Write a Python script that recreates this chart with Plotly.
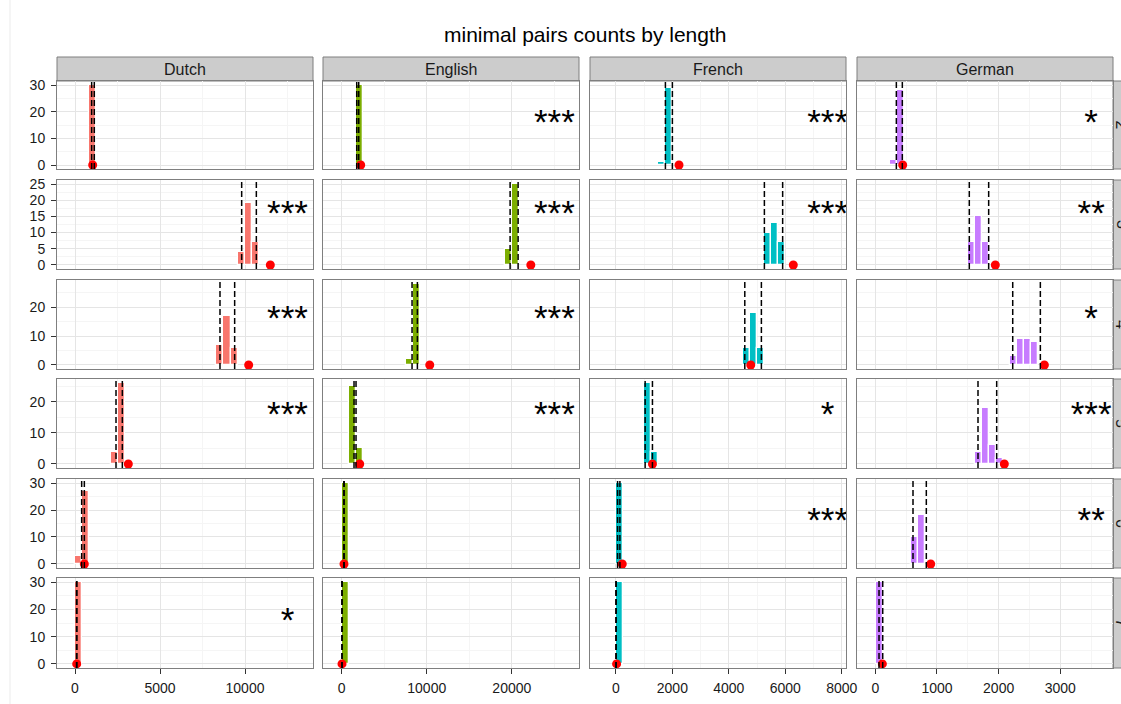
import plotly.graph_objects as go

W, H = 1121, 704

# ---------------------------------------------------------------- data
languages = ["Dutch", "English", "French", "German"]
lengths = ["2", "3", "4", "5", "6", "7"]

# simulated minimal-pair counts: histogram bin centres and counts per word length
dutch_centers = {"2": [1055], "3": [9770, 10185, 10600], "4": [8525, 8940, 9355],
                 "5": [2300, 2715], "6": [225, 640], "7": [225]}
dutch_counts = {"2": [30], "3": [4, 19, 7], "4": [7, 17, 6],
                "5": [4, 26], "6": [3, 27], "7": [30]}

english_centers = {"2": [2130], "3": [19560, 20390], "4": [7940, 8770],
                   "5": [1300, 2130], "6": [470], "7": [470]}
english_counts = {"2": [30], "3": [5, 25], "4": [2, 28],
                  "5": [25, 5], "6": [30], "7": [30]}

french_centers = {"2": [1625, 1875], "3": [5375, 5625, 5875], "4": [4625, 4875, 5125],
                  "5": [1125, 1375], "6": [125], "7": [125]}
french_counts = {"2": [1, 29], "3": [10, 13, 7], "4": [6, 18, 6],
                 "5": [26, 4], "6": [30], "7": [30]}

german_centers = {"2": [294, 408.5], "3": [1553.5, 1668, 1782.5],
                  "4": [2240.5, 2355, 2469.5, 2584], "5": [1668, 1782.5, 1897, 2011.5],
                  "6": [637.5, 752], "7": [65]}
german_counts = {"2": [2, 28], "3": [7, 15, 7], "4": [3, 9, 9, 8],
                 "5": [4, 18, 6, 2], "6": [10, 18], "7": [30]}

binwidth = {"Dutch": 415, "English": 830, "French": 250, "German": 114.5}

# 95% interval of the simulated counts (dashed lines)
dutch_ci = {"2": (980, 1135), "3": (9804, 10667), "4": (8529, 9392),
            "5": (2412, 2784), "6": (392, 549), "7": (90, 110)}
english_ci = {"2": (1765, 2000), "3": (19800, 20741), "4": (8270, 8898),
              "5": (1447, 1682), "6": (250, 290), "7": (25, 45)}
french_ci = {"2": (1753, 2000), "3": (5259, 5906), "4": (4565, 5153),
             "5": (1035, 1294), "6": (59, 141), "7": (0, 10)}
german_ci = {"2": (341, 438), "3": (1524, 1838), "4": (2228, 2676),
             "5": (1665, 1968), "6": (611, 827), "7": (60, 120)}

# observed counts (red points)
dutch_obs = {"2": 1040, "3": 11490, "4": 10216, "5": 3137, "6": 549, "7": 100}
english_obs = {"2": 2235, "3": 22235, "4": 10353, "5": 2118, "6": 270, "7": 35}
french_obs = {"2": 2235, "3": 6283, "4": 4776, "5": 1294, "6": 224, "7": 24}
german_obs = {"2": 444, "3": 1946, "4": 2741, "5": 2092, "6": 898, "7": 114}

# significance labels, rows = word length 2..7
dutch_sig = ["", "***", "***", "***", "", "*"]
english_sig = ["***", "***", "***", "***", "", ""]
french_sig = ["***", "***", "", "*", "***", ""]
german_sig = ["*", "**", "*", "***", "**", ""]

centers = {"Dutch": dutch_centers, "English": english_centers,
           "French": french_centers, "German": german_centers}
counts = {"Dutch": dutch_counts, "English": english_counts,
          "French": french_counts, "German": german_counts}
ci = {"Dutch": dutch_ci, "English": english_ci, "French": french_ci, "German": german_ci}
obs = {"Dutch": dutch_obs, "English": english_obs, "French": french_obs, "German": german_obs}
sig = {"Dutch": dutch_sig, "English": english_sig, "French": french_sig, "German": german_sig}

# ---------------------------------------------------------------- styling / layout
colors = {"Dutch": "#F8766D", "English": "#7CAE00", "French": "#00BFC4", "German": "#C77CFF"}
x_range = {"Dutch": [-1059, 14000], "English": [-2200, 27900],
           "French": [-918, 8150], "German": [-297, 3854]}
x_dtick = {"Dutch": 5000, "English": 10000, "French": 2000, "German": 1000}
y_dtick = [10, 5, 10, 10, 10, 10]
star_x = {"Dutch": 12500, "English": 25000, "French": 7500, "German": 3500}
star_y = 15

col_px = [(57, 313), (323, 579), (590, 846), (857, 1113)]
row_px = [(81, 169), (180, 269), (280, 369), (379, 468), (479, 568), (578, 668)]
strip_top = (57, 81)
strip_right_x = 1113

FONT = "Liberation Sans, Arial, Helvetica, sans-serif"
BORDER = "#7F7F7F"
GRID = "#E5E5E5"
MINOR = "#F5F5F5"


def fx(v):
    return v / W


def fy(v):
    return 1 - v / H


fig = go.Figure()
layout = {}
shapes = []
annotations = []

for r, length in enumerate(lengths):
    row_max = max(max(counts[lang][length]) for lang in languages)
    y_lo, y_hi = -0.05 * row_max, 1.05 * row_max
    for c, lang in enumerate(languages):
        i = r * 4 + c + 1
        suffix = "" if i == 1 else str(i)
        xa, ya = f"x{suffix}", f"y{suffix}"
        xk, yk = f"xaxis{suffix}", f"yaxis{suffix}"
        bottom = r == len(lengths) - 1
        left = c == 0

        layout[xk] = dict(
            domain=[fx(col_px[c][0]), fx(col_px[c][1])], anchor=ya, automargin=False,
            range=x_range[lang], tickmode="linear", tick0=0, dtick=x_dtick[lang],
            tickformat="d", exponentformat="none",
            showgrid=True, gridcolor=GRID, gridwidth=1, zeroline=False,
            minor=dict(showgrid=True, gridcolor=MINOR, gridwidth=1,
                       tick0=0, dtick=x_dtick[lang] / 2, ticks=""),
            showline=True, mirror=True, linecolor=BORDER, linewidth=1,
            ticks="outside" if bottom else "", ticklen=5, tickcolor="#333333",
            showticklabels=bottom, ticklabelstandoff=2,
            tickfont=dict(family=FONT, size=14, color="#1A1A1A"),
            fixedrange=True,
        )
        layout[yk] = dict(
            domain=[fy(row_px[r][1]), fy(row_px[r][0])], anchor=xa, automargin=False,
            range=[y_lo, y_hi], tickmode="linear", tick0=0, dtick=y_dtick[r],
            showgrid=True, gridcolor=GRID, gridwidth=1, zeroline=False,
            minor=dict(showgrid=True, gridcolor=MINOR, gridwidth=1,
                       tick0=0, dtick=y_dtick[r] / 2, ticks=""),
            showline=True, mirror=True, linecolor=BORDER, linewidth=1,
            ticks="outside" if left else "", ticklen=5, tickcolor="#333333",
            showticklabels=left, ticklabelstandoff=3,
            tickfont=dict(family=FONT, size=14, color="#1A1A1A"),
            fixedrange=True,
        )

        # simulated histogram
        fig.add_trace(go.Bar(
            x=centers[lang][length], y=counts[lang][length],
            width=binwidth[lang], xaxis=xa, yaxis=ya,
            marker=dict(color=colors[lang], line=dict(color="white", width=1.3)),
            showlegend=False, hoverinfo="skip",
        ))

        # interval bounds
        for v in ci[lang][length]:
            shapes.append(dict(
                type="line", xref=xa, yref=f"{ya} domain", x0=v, x1=v, y0=0, y1=1,
                line=dict(color="black", width=1.5, dash="6px,3px"), layer="above",
            ))

        # observed value
        fig.add_trace(go.Scatter(
            x=[obs[lang][length]], y=[0], xaxis=xa, yaxis=ya, mode="markers",
            marker=dict(color="#FF0000", size=9, line=dict(width=0)),
            cliponaxis=False, showlegend=False, hoverinfo="skip",
        ))

        # significance stars
        label = sig[lang][r]
        if label:
            fig.add_trace(go.Scatter(
                x=[star_x[lang]], y=[star_y], xaxis=xa, yaxis=ya, mode="text",
                text=[label], textposition="middle center",
                textfont=dict(family=FONT, size=35, color="black"),
                cliponaxis=True, showlegend=False, hoverinfo="skip",
            ))

# facet strips along the top
for c, lang in enumerate(languages):
    x0, x1 = col_px[c]
    shapes.append(dict(type="rect", xref="paper", yref="paper",
                       x0=fx(x0), x1=fx(x1), y0=fy(strip_top[1]), y1=fy(strip_top[0]),
                       fillcolor="#CCCCCC", line=dict(color=BORDER, width=1), layer="below"))
    annotations.append(dict(text=lang, xref="paper", yref="paper",
                            x=fx((x0 + x1) / 2), y=fy((strip_top[0] + strip_top[1]) / 2),
                            showarrow=False, xanchor="center", yanchor="middle",
                            font=dict(family=FONT, size=16, color="#1A1A1A")))

# facet strips down the right side, running off the page edge
for r, length in enumerate(lengths):
    y0, y1 = row_px[r]
    shapes.append(dict(type="rect", xref="paper", yref="paper",
                       x0=fx(strip_right_x), x1=1, y0=fy(y1), y1=fy(y0),
                       fillcolor="#CCCCCC", line=dict(width=0), layer="below"))
    shapes.append(dict(type="path", xref="paper", yref="paper",
                       path=f"M 1,{fy(y0)} L {fx(strip_right_x)},{fy(y0)} "
                            f"L {fx(strip_right_x)},{fy(y1)} L 1,{fy(y1)}",
                       line=dict(color=BORDER, width=1), layer="below"))
    annotations.append(dict(text=length, xref="paper", yref="paper",
                            x=fx((strip_right_x + W) / 2), y=fy((y0 + y1) / 2),
                            textangle=90, width=30, height=W - strip_right_x,
                            valign="bottom", borderpad=0, borderwidth=0,
                            showarrow=False, xanchor="center", yanchor="middle",
                            font=dict(family=FONT, size=16, color="#1A1A1A")))

# thin page frame line at the left edge
shapes.append(dict(type="line", xref="paper", yref="paper", x0=fx(10), x1=fx(10),
                   y0=0, y1=1, line=dict(color="#EBEBEB", width=1), layer="below"))

# title
annotations.append(dict(text="minimal pairs counts by length", xref="paper", yref="paper",
                        x=fx(585), y=fy(35), showarrow=False,
                        xanchor="center", yanchor="middle",
                        font=dict(family=FONT, size=21, color="black")))

fig.update_layout(
    width=W, height=H, autosize=False,
    margin=dict(l=0, r=0, t=0, b=0, pad=0, autoexpand=False),
    paper_bgcolor="white", plot_bgcolor="white",
    barmode="overlay", bargap=0,
    shapes=shapes, annotations=annotations,
    showlegend=False,
    **layout,
)

fig.write_html("out.html", include_plotlyjs=True,
               config={"displayModeBar": False, "responsive": False})
